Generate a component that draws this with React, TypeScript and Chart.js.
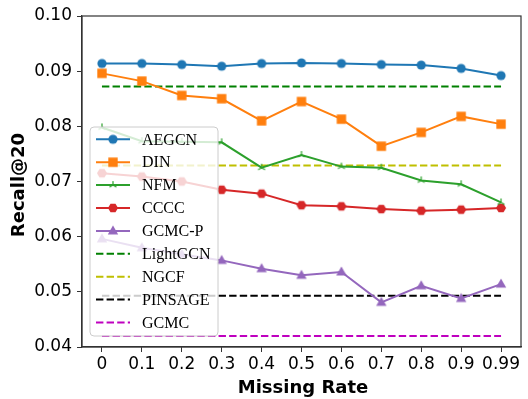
import React, { useEffect, useRef } from "react";
import { Chart, registerables } from "chart.js";

Chart.register(...registerables);

const categories = ["0", "0.1", "0.2", "0.3", "0.4", "0.5", "0.6", "0.7", "0.8", "0.9", "0.99"];
const aegcn = [0.0914, 0.0914, 0.0912, 0.0909, 0.0914, 0.0915, 0.0914, 0.0912, 0.0911, 0.0905, 0.0892];
const din = [0.0896, 0.0882, 0.0856, 0.085, 0.081, 0.0845, 0.0813, 0.0764, 0.0789, 0.0818, 0.0804];
const nfm = [0.0798, 0.0773, 0.0772, 0.0771, 0.0725, 0.0748, 0.0727, 0.0725, 0.0702, 0.0695, 0.0662];
const cccc = [0.0715, 0.0709, 0.07, 0.0685, 0.0678, 0.0657, 0.0655, 0.065, 0.0647, 0.0649, 0.0652];
const gcmcP = [0.0596, 0.058, 0.0568, 0.0557, 0.0542, 0.053, 0.0536, 0.0481, 0.0511, 0.0488, 0.0514];
const lightgcnValue = 0.0872;
const ngcfValue = 0.0729;
const pinsageValue = 0.0493;
const gcmcValue = 0.042;
const yTicks = [0.04, 0.05, 0.06, 0.07, 0.08, 0.09, 0.1];

type Marker = "circle" | "square" | "tri" | "hex" | "triangle" | "none";

function makeMarker(kind: Marker, color: string): HTMLCanvasElement {
  const c = document.createElement("canvas");
  c.width = 16;
  c.height = 16;
  const ctx = c.getContext("2d")!;
  const cx = 8, cy = 8;
  ctx.fillStyle = color;
  ctx.strokeStyle = color;
  ctx.lineWidth = 1;
  ctx.beginPath();
  if (kind === "circle") {
    ctx.arc(cx, cy, 4.6, 0, Math.PI * 2);
    ctx.fill();
  } else if (kind === "square") {
    ctx.rect(cx - 4.7, cy - 4.7, 9.4, 9.4);
    ctx.fill();
  } else if (kind === "hex") {
    for (let i = 0; i < 6; i++) {
      const a = (Math.PI / 3) * i;
      const x = cx + Math.cos(a) * 5;
      const y = cy + Math.sin(a) * 5;
      if (i === 0) ctx.moveTo(x, y);
      else ctx.lineTo(x, y);
    }
    ctx.closePath();
    ctx.fill();
  } else if (kind === "triangle") {
    ctx.moveTo(cx, cy - 5.6);
    ctx.lineTo(cx + 5.2, cy + 3.6);
    ctx.lineTo(cx - 5.2, cy + 3.6);
    ctx.closePath();
    ctx.fill();
  } else if (kind === "tri") {
    ctx.lineWidth = 1.2;
    ctx.moveTo(cx, cy);
    ctx.lineTo(cx, cy - 4);
    ctx.moveTo(cx, cy);
    ctx.lineTo(cx - 3.5, cy + 2);
    ctx.moveTo(cx, cy);
    ctx.lineTo(cx + 3.5, cy + 2);
    ctx.stroke();
  }
  return c;
}

export default function App() {
  const ref = useRef<HTMLCanvasElement | null>(null);

  useEffect(() => {
    const canvas = ref.current;
    if (!canvas) return;

    const series = [
      { label: "AEGCN", data: aegcn, color: "#1f77b4", marker: "circle" as Marker, dashed: false },
      { label: "DIN", data: din, color: "#ff7f0e", marker: "square" as Marker, dashed: false },
      { label: "NFM", data: nfm, color: "#2ca02c", marker: "tri" as Marker, dashed: false },
      { label: "CCCC", data: cccc, color: "#d62728", marker: "hex" as Marker, dashed: false },
      { label: "GCMC-P", data: gcmcP, color: "#9467bd", marker: "triangle" as Marker, dashed: false },
      { label: "LightGCN", data: categories.map(() => lightgcnValue), color: "#008000", marker: "none" as Marker, dashed: true },
      { label: "NGCF", data: categories.map(() => ngcfValue), color: "#bfbf00", marker: "none" as Marker, dashed: true },
      { label: "PINSAGE", data: categories.map(() => pinsageValue), color: "#000000", marker: "none" as Marker, dashed: true },
      { label: "GCMC", data: categories.map(() => gcmcValue), color: "#bf00bf", marker: "none" as Marker, dashed: true },
    ];
    const markers = series.map((s) => (s.marker === "none" ? null : makeMarker(s.marker, s.color)));
    const dash = [7.4, 3.2];

    const datasets = series.map((s, i) => ({
      label: s.label,
      data: s.data,
      borderColor: s.color,
      backgroundColor: s.color,
      borderWidth: 2,
      borderDash: s.dashed ? dash : [],
      pointStyle: markers[i] || "circle",
      pointRadius: s.dashed ? 0 : 5,
      pointHoverRadius: s.dashed ? 0 : 5,
      tension: 0,
      fill: false,
      order: s.dashed ? 10 + i : i,
    }));

    const framePlugin = {
      id: "frame",
      afterDatasetsDraw(chart: any) {
        const { ctx, chartArea: a } = chart;
        ctx.save();
        ctx.strokeStyle = "#333333";
        ctx.lineWidth = 1.2;
        ctx.strokeRect(a.left, a.top, a.right - a.left, a.bottom - a.top);
        ctx.restore();
      },
      afterDraw(chart: any) {
        const { ctx } = chart;
        // legend
        ctx.save();
        const lx = 90, ly = 127, lw = 128, lh = 209, r = 4;
        ctx.beginPath();
        ctx.moveTo(lx + r, ly);
        ctx.arcTo(lx + lw, ly, lx + lw, ly + lh, r);
        ctx.arcTo(lx + lw, ly + lh, lx, ly + lh, r);
        ctx.arcTo(lx, ly + lh, lx, ly, r);
        ctx.arcTo(lx, ly, lx + lw, ly, r);
        ctx.closePath();
        ctx.fillStyle = "rgba(255,255,255,0.8)";
        ctx.fill();
        ctx.strokeStyle = "#cccccc";
        ctx.lineWidth = 1;
        ctx.stroke();
        const rowH = 22.9;
        series.forEach((s, i) => {
          const y = 139.3 + i * rowH;
          ctx.beginPath();
          ctx.strokeStyle = s.color;
          ctx.lineWidth = 2;
          ctx.setLineDash(s.dashed ? dash : []);
          ctx.moveTo(96, y);
          ctx.lineTo(130, y);
          ctx.stroke();
          ctx.setLineDash([]);
          const m = markers[i];
          if (m) ctx.drawImage(m, 113 - 8, y - 8);
          ctx.fillStyle = "#000000";
          ctx.font = '16px "Liberation Serif"';
          ctx.textAlign = "left";
          ctx.textBaseline = "middle";
          ctx.fillText(s.label, 142, y + 1);
        });
        // axis titles
        ctx.fillStyle = "#000000";
        ctx.font = 'bold 18px "DejaVu Sans"';
        ctx.textAlign = "center";
        ctx.textBaseline = "alphabetic";
        ctx.fillText("Missing Rate", 303, 393);
        ctx.translate(24, 185);
        ctx.rotate(-Math.PI / 2);
        ctx.fillText("Recall@20", 0, 0);
        ctx.restore();
      },
    };

    const chart = new Chart(canvas, {
      type: "line",
      data: { labels: categories, datasets: datasets as any },
      options: {
        responsive: false,
        animation: false,
        layout: { padding: { top: 16, right: 3, left: 0, bottom: 0 } },
        plugins: { legend: { display: false }, tooltip: { enabled: false } },
        scales: {
          x: {
            type: "category",
            offset: true,
            grid: { drawOnChartArea: false, drawTicks: true, tickLength: 5, color: "#333333" },
            border: { color: "#333333", width: 1.2 },
            ticks: {
              color: "#000000",
              font: { family: "DejaVu Sans", size: 17 },
              padding: 2,
              maxRotation: 0,
              autoSkip: false,
            },
            afterFit(scale: any) {
              scale.height = 52;
            },
          },
          y: {
            min: 0.04,
            max: 0.1,
            afterBuildTicks(scale: any) {
              scale.ticks = yTicks.map((v) => ({ value: v }));
            },
            grid: { drawOnChartArea: false, drawTicks: true, tickLength: 5, color: "#333333" },
            border: { color: "#333333", width: 1.2 },
            ticks: {
              color: "#000000",
              font: { family: "DejaVu Sans", size: 17 },
              padding: 5,
              callback: (v: any) => Number(v).toFixed(2),
            },
            afterFit(scale: any) {
              scale.width = 82;
            },
          },
        },
      },
      plugins: [framePlugin],
    });

    return () => chart.destroy();
  }, []);

  return (
    <div style={{ position: "fixed", left: 0, top: 0, width: 528, height: 399, background: "#ffffff" }}>
      <canvas ref={ref} width={528} height={399} />
    </div>
  );
}
